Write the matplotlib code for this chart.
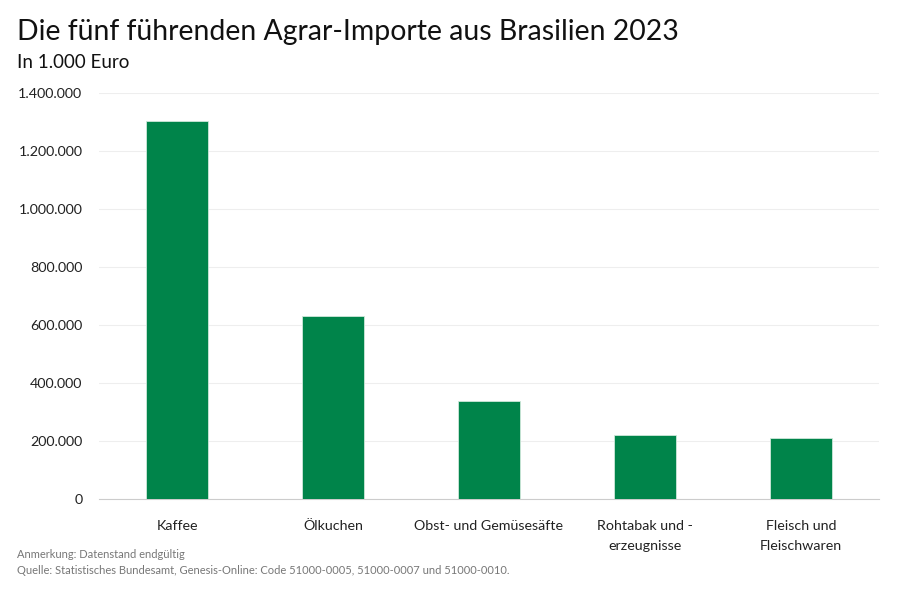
import matplotlib.pyplot as plt
import matplotlib.ticker as mticker

plt.rcParams['font.family'] = ['Lato', 'DejaVu Sans']

categories = ['Kaffee', 'Ölkuchen', 'Obst- und Gemüsesäfte',
              'Rohtabak und -\nerzeugnisse', 'Fleisch und\nFleischwaren']
values = [1303000, 630000, 338000, 220000, 210000]
yticks = [0, 200000, 400000, 600000, 800000, 1000000, 1200000, 1400000]

fig = plt.figure(figsize=(9, 5.9), dpi=100)
ax = fig.add_axes([99 / 900, 1 - 499 / 590, 780 / 900, 406 / 590])

x = range(len(categories))
ax.bar(x, values, width=0.4, color='#00844a', edgecolor='#cfe8da', linewidth=0.6, zorder=3)

ax.set_xlim(-0.5, len(categories) - 0.5)
ax.set_ylim(0, 1400000)
ax.set_yticks(yticks)
ax.yaxis.set_major_formatter(mticker.FuncFormatter(lambda v, p: f'{int(v):,}'.replace(',', '.')))
ax.set_xticks(list(x))
ax.set_xticklabels(categories, linespacing=1.85, va='top')

ax.grid(axis='y', color='#eeeeee', linewidth=0.8, zorder=0)
for s in ['top', 'right', 'left']:
    ax.spines[s].set_visible(False)
ax.spines['bottom'].set_color('#cccccc')
ax.tick_params(axis='both', length=0, labelsize=10.3, colors='#222222')
ax.tick_params(axis='y', pad=12)
ax.tick_params(axis='x', pad=15)

fig.text(17 / 900, 1 - 32 / 590, 'Die fünf führenden Agrar-Importe aus Brasilien 2023',
         fontsize=20.4, va='center', ha='left', color='#111111')
fig.text(17 / 900, 1 - 62 / 590, 'In 1.000 Euro', fontsize=13.5, va='center', ha='left', color='#111111')
fig.text(17 / 900, 1 - 554 / 590, 'Anmerkung: Datenstand endgültig',
         fontsize=8, va='center', ha='left', color='#777777')
fig.text(17 / 900, 1 - 570 / 590,
         'Quelle: Statistisches Bundesamt, Genesis-Online: Code 51000-0005, 51000-0007 und 51000-0010.',
         fontsize=8, va='center', ha='left', color='#777777')

fig.savefig('out.png', dpi=100)
